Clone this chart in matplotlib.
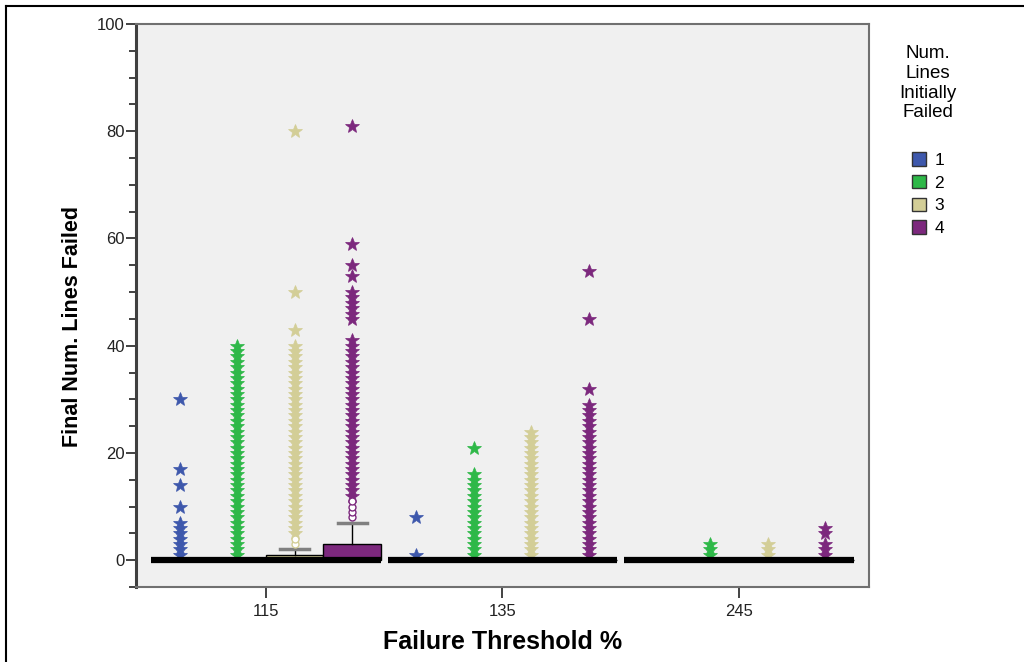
import matplotlib
matplotlib.use("Agg")
import matplotlib.pyplot as plt
from matplotlib.patches import Patch
from matplotlib.lines import Line2D
from matplotlib.ticker import MultipleLocator

plt.rcParams["font.family"] = ["Liberation Sans", "DejaVu Sans"]

# группы по оси X и серии (число изначально отказавших линий)
thresholds = ["115", "135", "245"]
series = ["1", "2", "3", "4"]
colors = ["#3e58ac", "#2eb848", "#d3ce97", "#7c287d"]

# параметры ящиков: [порог][серия]
q1 = [[0, 0, 0, 0], [0, 0, 0, 0], [0, 0, 0, 0]]
med = [[0, 0, 0, 0], [0, 0, 0, 0], [0, 0, 0, 0]]
q3 = [[0, 0, 1, 3], [0, 0, 0, 0], [0, 0, 0, 0]]
whis_hi = [[0, 0, 2, 7], [0, 0, 0, 0], [0, 0, 0, 0]]

# выбросы (кружки) и экстремальные значения (звёздочки)
outliers_115 = [[], [], [3, 4], [8, 9, 10, 11]]
extremes_115 = [
    [1, 2, 3, 4, 5, 6, 7, 10, 14, 17, 30],
    [1, 2, 3, 4, 5, 6, 7, 8, 9, 10, 11, 12, 13, 14, 15, 16, 17, 18, 19, 20,
     21, 22, 23, 24, 25, 26, 27, 28, 29, 30, 31, 32, 33, 34, 35, 36, 37, 38, 39, 40],
    [5, 6, 7, 8, 9, 10, 11, 12, 13, 14, 15, 16, 17, 18, 19, 20, 21, 22, 23, 24,
     25, 26, 27, 28, 29, 30, 31, 32, 33, 34, 35, 36, 37, 38, 39, 40, 43, 50, 80],
    [12, 13, 14, 15, 16, 17, 18, 19, 20, 21, 22, 23, 24, 25, 26, 27, 28, 29, 30,
     31, 32, 33, 34, 35, 36, 37, 38, 39, 40, 41, 45, 46, 47, 48, 49, 50, 53, 55, 59, 81],
]
outliers_135 = [[], [], [], []]
extremes_135 = [
    [1, 8],
    [1, 2, 3, 4, 5, 6, 7, 8, 9, 10, 11, 12, 13, 14, 15, 16, 21],
    [1, 2, 3, 4, 5, 6, 7, 8, 9, 10, 11, 12, 13, 14, 15, 16, 17, 18, 19, 20, 21, 22, 23, 24],
    [1, 2, 3, 4, 5, 6, 7, 8, 9, 10, 11, 12, 13, 14, 15, 16, 17, 18, 19, 20,
     21, 22, 23, 24, 25, 26, 27, 28, 29, 32, 45, 54],
]
outliers_245 = [[], [], [], []]
extremes_245 = [[], [1, 2, 3], [1, 2, 3], [1, 2, 3, 5, 6]]

outliers = [outliers_115, outliers_135, outliers_245]
extremes = [extremes_115, extremes_135, extremes_245]

fig = plt.figure(figsize=(10.24, 6.62), dpi=100)
ax = fig.add_axes([0.1328, 0.1133, 0.7158, 0.8504])
ax.set_facecolor("#f0f0f0")

bw = 0.243
stats, positions, faces = [], [], []
for g in range(len(thresholds)):
    for s in range(len(series)):
        stats.append(dict(q1=q1[g][s], med=med[g][s], q3=q3[g][s],
                          whislo=q1[g][s], whishi=whis_hi[g][s], fliers=[]))
        positions.append(g + (s - 1.5) * bw)
        faces.append(colors[s])

bp = ax.bxp(stats, positions=positions, widths=bw, patch_artist=True,
            showfliers=False, capwidths=bw * 0.5,
            boxprops=dict(edgecolor="black", linewidth=1.0),
            whiskerprops=dict(color="black", linewidth=1.0),
            capprops=dict(color="#808080", linewidth=2.5),
            medianprops=dict(color="black", linewidth=4.5, solid_capstyle="butt"))
for patch, fc in zip(bp["boxes"], faces):
    patch.set_facecolor(fc)
for m in bp["medians"]:
    m.set_zorder(5)

for g in range(len(thresholds)):
    for s in range(len(series)):
        x = g + (s - 1.5) * bw
        ys = extremes[g][s]
        if ys:
            ax.plot([x] * len(ys), ys, linestyle="none", marker="*", markersize=10,
                    markerfacecolor=colors[s], markeredgecolor=colors[s],
                    markeredgewidth=0.5, zorder=4)
        yo = outliers[g][s]
        if yo:
            ax.plot([x] * len(yo), yo, linestyle="none", marker="o", markersize=5,
                    markerfacecolor="white", markeredgecolor=colors[s],
                    markeredgewidth=1.0, zorder=4.5)

ax.set_xlim(-0.55, 2.55)
ax.set_ylim(-5, 100)
ax.set_xticks(range(len(thresholds)))
ax.set_xticklabels(thresholds)
ax.yaxis.set_major_locator(MultipleLocator(20))
ax.yaxis.set_minor_locator(MultipleLocator(5))
ax.tick_params(axis="y", which="major", length=7, width=1.2, color="#222222",
               labelsize=12, labelcolor="#222222", pad=1)
ax.tick_params(axis="y", which="minor", length=5, width=1.2, color="#222222")
ax.tick_params(axis="x", length=8, width=1.2, color="#222222",
               labelsize=12, labelcolor="#222222", pad=4)

for side in ["top", "right", "bottom"]:
    ax.spines[side].set_color("#707070")
    ax.spines[side].set_linewidth(1.5)
ax.spines["left"].set_color("#404040")
ax.spines["left"].set_linewidth(2.2)

ax.set_ylabel("Final Num. Lines Failed", fontsize=15.5, fontweight="bold")
ax.yaxis.set_label_coords(-0.072, 0.4636)
ax.set_xlabel("Failure Threshold %", fontsize=18, fontweight="bold", labelpad=8)

handles = [Patch(facecolor=c, edgecolor="#333333", linewidth=1.0) for c in colors]
leg = fig.legend(handles, series, title="Num.\nLines\nInitially\nFailed",
                 loc="upper center", bbox_to_anchor=(0.906, 0.955), frameon=False,
                 fontsize=12.5, title_fontsize=13.5, handlelength=0.85, handleheight=0.85,
                 handletextpad=0.45, labelspacing=0.4)
leg.get_title().set_multialignment("center")
leg._legend_box.sep = 22

# рамка вокруг картинки (сверху и слева)
fig.add_artist(Line2D([6 / 1024, 6 / 1024], [0, 1 - 6 / 662], transform=fig.transFigure,
                      color="black", linewidth=1.5))
fig.add_artist(Line2D([6 / 1024, 1], [1 - 6 / 662, 1 - 6 / 662], transform=fig.transFigure,
                      color="black", linewidth=1.5))

fig.savefig("out.png", dpi=100, facecolor="white")
